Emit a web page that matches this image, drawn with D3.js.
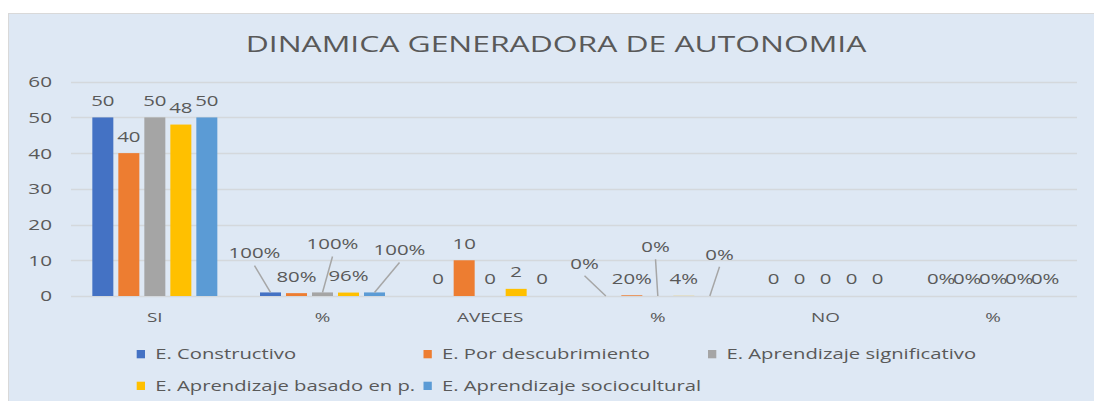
<!DOCTYPE html>
<html>
<head>
<meta charset="utf-8">
<script src="https://cdn.jsdelivr.net/npm/d3@7/dist/d3.min.js"></script>
<style>
  html, body { margin: 0; padding: 0; background: #ffffff; }
  svg { display: block; }
  text { font-family: "Open Sans", "Noto Sans", sans-serif; fill: #595959; }
</style>
</head>
<body>
<svg id="chart" width="1094" height="401"></svg>
<script>
// ---- data ----
const title = "DINAMICA GENERADORA DE AUTONOMIA";
const categories = ["SI", "%", "AVECES", "%", "NO", "%"];
const seriesNames = [
  "E. Constructivo",
  "E. Por descubrimiento",
  "E. Aprendizaje significativo",
  "E. Aprendizaje basado en p.",
  "E. Aprendizaje sociocultural"
];
const constructivo   = [50, 1,    0,  0,    0, 0];
const descubrimiento = [40, 0.8,  10, 0.2,  0, 0];
const significativo  = [50, 1,    0,  0,    0, 0];
const basadoEnP      = [48, 0.96, 2,  0.04, 0, 0];
const sociocultural  = [50, 1,    0,  0,    0, 0];
const yTicks = [0, 10, 20, 30, 40, 50, 60];
const seriesColors = ["#4472c4", "#ed7d31", "#a5a5a5", "#ffc000", "#5b9bd5"];

const seriesValues = [constructivo, descubrimiento, significativo, basadoEnP, sociocultural];

// manually moved labels (layout): category index, series index, offset from default spot
const labelMoves = [
  { c: 1, s: 0, dx: -16, dy: -22.4 },
  { c: 1, s: 2, dx: 10,  dy: -31.4 },
  { c: 1, s: 4, dx: 25,  dy: -25.4 },
  { c: 3, s: 0, dx: -21.3, dy: -15.7 },
  { c: 3, s: 2, dx: -2.3, dy: -32.3 },
  { c: 3, s: 4, dx: 9.7, dy: -24.7 }
];

// ---- layout ----
const svg = d3.select("#chart");
const W = 1094, H = 401;
const plot = { left: 71, right: 1077, top: 81.7, bottom: 296 };
const SX = 1.36; // horizontal text stretch

svg.append("rect").attr("x", 0).attr("y", 0).attr("width", W).attr("height", H).attr("fill", "#ffffff");
svg.append("rect").attr("x", 8.5).attr("y", 13.5).attr("width", 1090).attr("height", 392)
  .attr("fill", "#dee8f4").attr("stroke", "#d9d9d9").attr("stroke-width", 1);

function stretchedText(g, x, y, str, size, anchor, sx) {
  return g.append("text")
    .attr("transform", `translate(${x},${y}) scale(${sx},1)`)
    .attr("text-anchor", anchor)
    .style("font-size", size + "px")
    .text(str);
}

// title
stretchedText(svg, 556, 51.7, title, 21, "middle", 1.515);

const y = d3.scaleLinear().domain([0, 60]).range([plot.bottom, plot.top]);
const x0 = d3.scaleBand().domain(d3.range(categories.length)).range([plot.left, plot.right]).paddingInner(0).paddingOuter(0);
const groupW = 125;
const x1 = d3.scaleBand().domain(d3.range(seriesNames.length)).range([0, groupW]).paddingInner(5 / 26).paddingOuter(0);
const groupStart = c => x0(c) + (x0.bandwidth() - groupW) / 2;

// gridlines
svg.append("g").selectAll("line").data(yTicks).join("line")
  .attr("x1", plot.left).attr("x2", plot.right)
  .attr("y1", d => Math.round(y(d)) + 0.5).attr("y2", d => Math.round(y(d)) + 0.5)
  .attr("stroke", "#d4d8dc").attr("stroke-width", 1.3);

// y tick labels
const yAxisG = svg.append("g");
yTicks.forEach(t => stretchedText(yAxisG, 52, y(t) + 5.4, String(t), 15, "end", 1.38));

// category labels
const xAxisG = svg.append("g");
categories.forEach((c, i) => stretchedText(xAxisG, x0(i) + x0.bandwidth() / 2, 322.3, c, 13.5, "middle", 1.4));

// bars
const flat = [];
categories.forEach((c, ci) => {
  seriesValues.forEach((vals, si) => {
    flat.push({ c: ci, s: si, v: vals[ci], pct: c === "%" });
  });
});

svg.append("g").selectAll("rect").data(flat).join("rect")
  .attr("x", d => groupStart(d.c) + x1(d.s))
  .attr("width", x1.bandwidth())
  .attr("y", d => y(d.v))
  .attr("height", d => y(0) - y(d.v))
  .attr("fill", d => seriesColors[d.s]);

// data labels + leader lines
const fmtPct = d3.format(".0%");
const lblG = svg.append("g");
flat.forEach(d => {
  const bx = groupStart(d.c) + x1(d.s) + x1.bandwidth() / 2;
  const by = y(d.v);
  let lx = bx, ly = by - 17;
  const mv = labelMoves.find(m => m.c === d.c && m.s === d.s);
  if (mv) {
    lx += mv.dx; ly += mv.dy;
    lblG.append("line")
      .attr("x1", lx).attr("y1", ly + 12.5)
      .attr("x2", bx).attr("y2", by)
      .attr("stroke", "#a6a6a6").attr("stroke-width", 1.5);
  }
  stretchedText(lblG, lx, ly + 5.4, d.pct ? fmtPct(d.v) : String(d.v), 15, "middle", SX);
});

// legend
const legendPos = [
  { x: 136.7, y: 350 }, { x: 423.5, y: 350 }, { x: 708, y: 350 },
  { x: 136.7, y: 381.7 }, { x: 423.5, y: 381.7 }
];
const legG = svg.append("g");
seriesNames.forEach((name, i) => {
  const p = legendPos[i];
  legG.append("rect").attr("x", p.x).attr("y", p.y).attr("width", 8.3).attr("height", 8.3).attr("fill", seriesColors[i]);
  stretchedText(legG, p.x + 18.5, p.y + 9.2, name, 15, "start", 1.35);
});
</script>
</body>
</html>
